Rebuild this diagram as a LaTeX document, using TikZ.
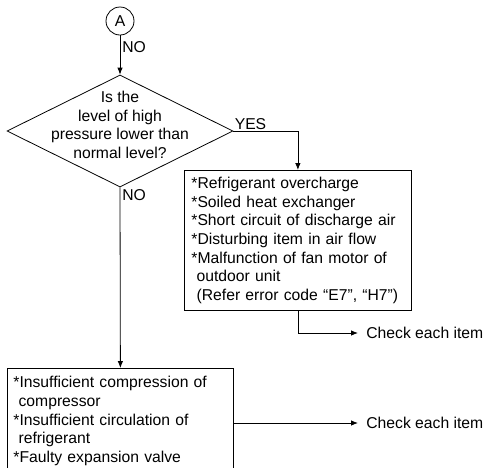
\documentclass[tikz,border=0pt]{standalone}
\usepackage{fontspec}
\setmainfont{Liberation Sans}
\usetikzlibrary{arrows.meta,shapes.geometric,positioning}
\tikzset{>={Latex[length=7pt,width=5.5pt]}}

\begin{document}
\begin{tikzpicture}[x=1pt, y=-1pt, font=\fontsize{15.7}{18.7}\selectfont, line width=0.8pt,
	box/.style={draw, rectangle, align=left, inner xsep=7pt},
	check/.style={anchor=west, inner xsep=8pt, inner ysep=0pt}]
	\useasboundingbox (0,0) rectangle (488,467);
	\clip (0,0) rectangle (488,467);

	\node[draw,circle,minimum size=28pt,inner sep=0] (a) at (120,21) {A};
	\node[draw,diamond,minimum width=226pt,minimum height=112pt,inner sep=0,
		label={[align=center,yshift=6pt]center:Is the\\level of high\\pressure lower than\\normal level?}] (level) at (120,131) {};

	% cause lists
	\node[box,anchor=north west,minimum width=227pt,minimum height=140pt,text width=213pt] (causes) at (184,170) {*Refrigerant overcharge\\{}*Soiled heat exchanger\\{}*Short circuit of discharge air\\{}*Disturbing item in air flow\\{}*Malfunction of fan motor of\\~outdoor unit\\~(Refer error code “E7”, “H7”)};
	\node[box,anchor=north west,inner xsep=6pt,inner ysep=8pt,text width=214pt] (insuff) at (7,368) {*Insufficient compression of\\~compressor\\{}*Insufficient circulation of\\~refrigerant\\{}*Faulty expansion valve};

	\node[check] (check1) at (358,333) {Check each item};
	\node[check] (check2) at (358,423) {Check each item};

	% connectors
	\draw[->] (a) -- node[right,pos=0.3,inner sep=2pt] (no1) {NO} (level);
	\draw[->] (level.east) node[above right,inner sep=1pt] (yes) {YES} -| (causes.north);
	\draw[->] (level.south) node[below right,inner sep=2pt] (no2) {NO} -- (insuff.north);
	\draw[->] (causes.south) |- (check1.west);
	\draw[->] (insuff.east |- check2.west) -- (check2.west);
\end{tikzpicture}
\end{document}
